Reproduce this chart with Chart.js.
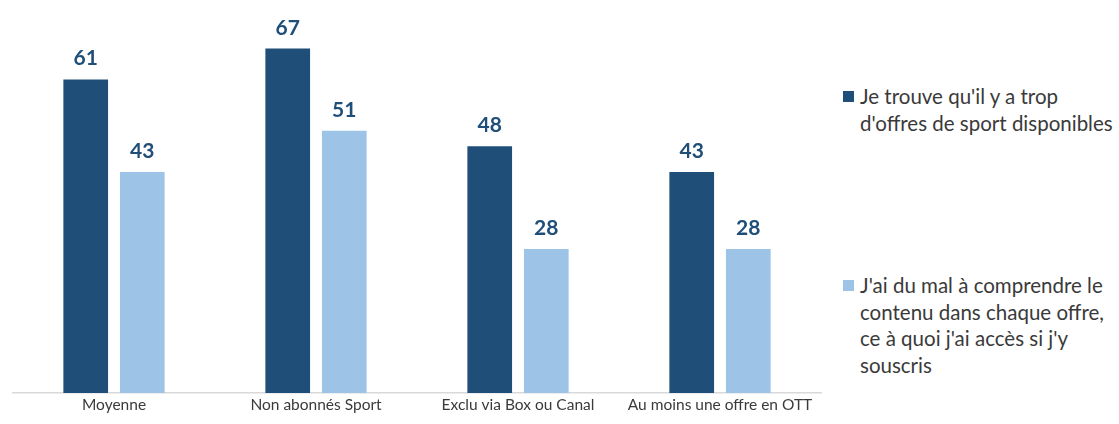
<!DOCTYPE html>
<html>
<head>
<meta charset="utf-8">
<script src="https://cdn.jsdelivr.net/npm/chart.js@4.4.0/dist/chart.umd.min.js"></script>
<style>
  body { margin: 0; background: #fff; }
  #wrap { position: absolute; left: 0; top: 0; width: 830px; height: 424px; }
  #legend { position: absolute; left: 843px; top: 0; font-family: Lato, sans-serif; font-size: 20.5px; color: #3a3a3a; }
  .item { position: absolute; left: 0; width: 276px; line-height: 26.5px; padding-left: 17px; white-space: nowrap; }
  .sw { position: absolute; left: 0; top: 8px; width: 10.5px; height: 10.5px; }
</style>
</head>
<body>
<div id="wrap"><canvas id="chart"></canvas></div>
<div id="legend"></div>
<script>
const categories = ['Moyenne', 'Non abonnés Sport', 'Exclu via Box ou Canal', 'Au moins une offre en OTT'];
const seriesNames = [
  ["Je trouve qu'il y a trop", "d'offres de sport disponibles"],
  ["J'ai du mal à comprendre le", "contenu dans chaque offre,", "ce à quoi j'ai accès si j'y", "souscris"]
];
const tropOffres = [61, 67, 48, 43];
const malComprendre = [43, 51, 28, 28];
const colors = ['#1F4E79', '#9DC3E6'];

const labelPlugin = {
  id: 'valueLabels',
  afterDatasetsDraw(chart) {
    const ctx = chart.ctx;
    ctx.save();
    ctx.font = 'bold 21px Lato, sans-serif';
    ctx.fillStyle = '#1F4E79';
    ctx.textAlign = 'center';
    ctx.textBaseline = 'alphabetic';
    chart.data.datasets.forEach((ds, i) => {
      chart.getDatasetMeta(i).data.forEach((bar, j) => {
        ctx.fillText(ds.data[j], bar.x, bar.y - 14);
      });
    });
    ctx.restore();
  }
};

new Chart(document.getElementById('chart'), {
  type: 'bar',
  data: {
    labels: categories,
    datasets: [
      { label: seriesNames[0].join(' '), data: tropOffres, backgroundColor: colors[0] },
      { label: seriesNames[1].join(' '), data: malComprendre, backgroundColor: colors[1] }
    ]
  },
  options: {
    responsive: true,
    maintainAspectRatio: false,
    animation: false,
    layout: { padding: { left: 13, right: 9, top: 7.5, bottom: 0 } },
    datasets: { bar: { categoryPercentage: 0.56, barPercentage: 0.79 } },
    plugins: { legend: { display: false }, tooltip: { enabled: false } },
    scales: {
      x: {
        grid: { display: false, drawTicks: false },
        border: { display: true, color: '#D9D9D9', width: 1.5 },
        ticks: { color: '#3a3a3a', font: { family: 'Lato', size: 15.5 }, padding: 3, maxRotation: 0 },
        afterFit(scale) { scale.height = 31; }
      },
      y: { display: false, min: 0, max: 75 }
    }
  },
  plugins: [labelPlugin]
});

const legend = document.getElementById('legend');
const tops = [83, 272];
seriesNames.forEach((lines, i) => {
  const it = document.createElement('div');
  it.className = 'item';
  it.style.top = tops[i] + 'px';
  it.innerHTML = '<span class="sw" style="background:' + colors[i] + '"></span>' + lines.join('<br>');
  legend.appendChild(it);
});
</script>
</body>
</html>
